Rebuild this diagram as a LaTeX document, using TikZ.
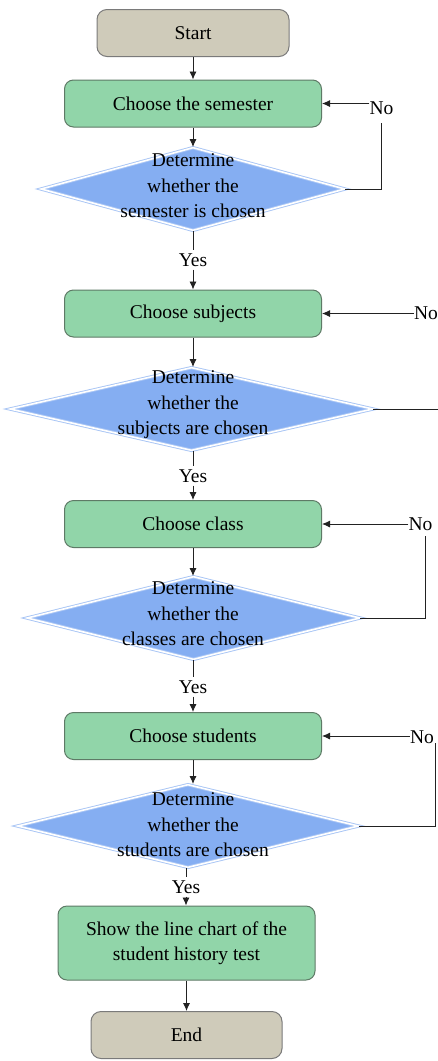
\documentclass[tikz,border=0pt]{standalone}
\usepackage{fontspec}
\newfontfamily\libser{Liberation Serif}
\usetikzlibrary{shapes.geometric,arrows.meta}
\definecolor{tanf}{HTML}{CFCBBA}
\definecolor{tanb}{HTML}{7A7A7A}
\definecolor{grnf}{HTML}{91D5A9}
\definecolor{grnb}{HTML}{5E7A66}
\definecolor{diaf}{HTML}{85AEF2}
\definecolor{diab}{HTML}{A8C5F5}
\definecolor{lnc}{HTML}{222222}
\begin{document}
\begin{tikzpicture}[x=1pt,y=-1pt,
 font=\libser\fontsize{19.5}{25.5}\selectfont,
 term/.style={draw=tanb, fill=tanf, rounded corners=10pt, line width=1pt, minimum width=192pt, minimum height=47pt, inner sep=0},
 proc/.style={draw=grnb, fill=grnf, rounded corners=9pt, line width=1pt, minimum width=257pt, minimum height=47pt, inner sep=0, align=center},
 dec/.style={diamond, draw=diab, double=white, double distance=1.6pt, line width=0.9pt, fill=diaf, inner sep=0, minimum height=83pt},
 dtext/.style={align=center, inner sep=0},
 arr/.style={draw=lnc, -{Latex[length=8pt,width=7pt]}, line width=0.9pt},
 ln/.style={draw=lnc, line width=0.9pt},
 lbl/.style={inner sep=3pt}]
\useasboundingbox (0,0) rectangle (438,1061);
\fill[white] (0,0) rectangle (438,1061);

\node[term] (start) at (193,33) {Start};
\node[proc] (b1) at (193,103.5) {Choose the semester};
\node[dec, minimum width=304pt] (d1) at (193,189) {};
\node[dtext] (d1t) at (193,186) {Determine\\whether the\\semester is chosen};
\node[lbl] (yes1) at (193,260) {Yes};
\node[proc] (b2) at (193,313.5) {Choose subjects};
\node[dec, minimum width=363pt] (d2) at (191.5,409) {};
\node[dtext] (d2t) at (193,405) {Determine\\whether the\\subjects are chosen};
\node[lbl] (yes2) at (193,476) {Yes};
\node[proc] (b3) at (193,524) {Choose class};
\node[dec, minimum width=333pt] (d3) at (193.5,618) {};
\node[dtext] (d3t) at (193,614) {Determine\\whether the\\classes are chosen};
\node[lbl] (yes3) at (193,687) {Yes};
\node[proc] (b4) at (193,736) {Choose students};
\node[dec, minimum width=341pt] (d4) at (188,826) {};
\node[dtext] (d4t) at (193,825) {Determine\\whether the\\students are chosen};
\node[lbl] (yes4) at (186,887) {Yes};
\node[proc, minimum height=74pt] (show) at (186.5,943) {Show the line chart of the\\student history test};
\node[term, minimum width=191pt] (end) at (186.5,1035) {End};

\node[inner sep=0] (no1) at (381.5,108) {No};
\node[inner sep=0] (no2) at (426,313) {No};
\node[inner sep=0] (no3) at (420.5,524) {No};
\node[inner sep=0] (no4) at (422,737) {No};
\coordinate (n1b) at (381,123);
\coordinate (n2b) at (440,409);
\coordinate (n3b) at (425,536);
\coordinate (n4b) at (435,743);

\draw[arr] (start.south) -- (b1.north);
\draw[arr] (b1.south) -- (d1.north);
\draw[ln] (d1.south) -- (yes1.north);
\draw[arr] (yes1.south) -- (b2.north);
\draw[arr] (b2.south) -- (d2.north -| b2.south);
\draw[ln] (d2.south -| yes2.north) -- (yes2.north);
\draw[arr] (yes2.south) -- (b3.north);
\draw[arr] (b3.south) -- (d3.north -| b3.south);
\draw[ln] (d3.south -| yes3.north) -- (yes3.north);
\draw[arr] (yes3.south) -- (b4.north);
\draw[arr] (b4.south) -- (d4.north -| b4.south);
\draw[ln] (d4.south -| yes4.north) -- (yes4.north);
\draw[arr] (yes4.south) -- (show.north -| yes4.south);
\draw[arr] (show.south) -- (end.north);

\draw[ln] (d1.east) -| (n1b);
\draw[arr] (no1.west |- b1.east) -- (b1.east);
\draw[ln] (d2.east) -- (n2b);
\draw[arr] (no2.west |- b2.east) -- (b2.east);
\draw[ln] (d3.east) -| (n3b);
\draw[arr] (no3.west |- b3.east) -- (b3.east);
\draw[ln] (d4.east) -| (n4b);
\draw[arr] (no4.west |- b4.east) -- (b4.east);
\end{tikzpicture}
\end{document}
